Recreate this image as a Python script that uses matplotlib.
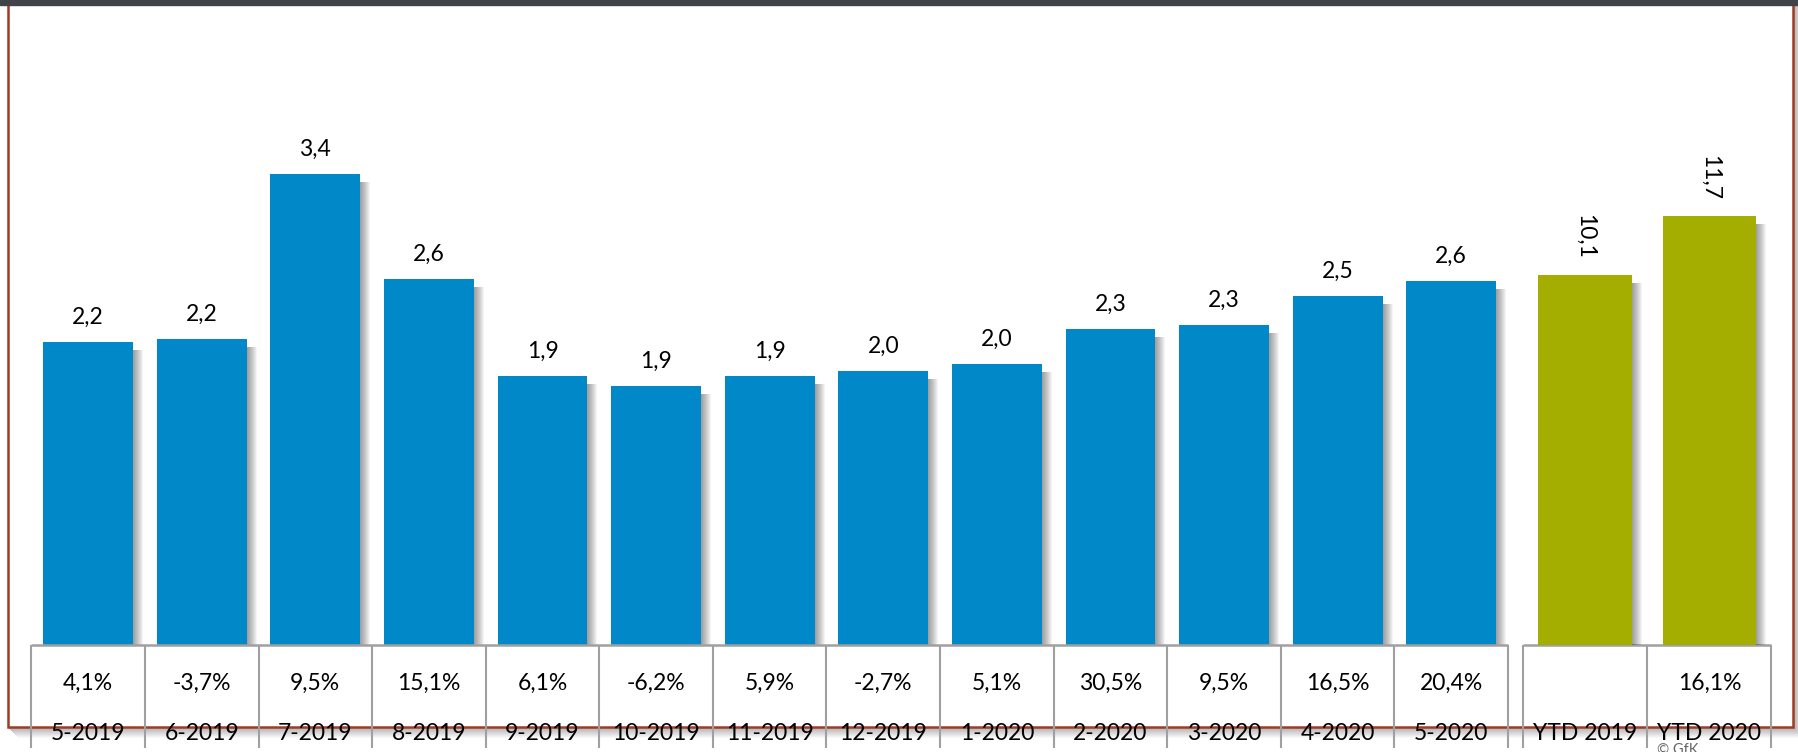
import numpy as np
import matplotlib
matplotlib.use('Agg')
import matplotlib.pyplot as plt
from matplotlib.patches import Rectangle
from matplotlib.lines import Line2D
from matplotlib.transforms import blended_transform_factory, offset_copy

plt.rcParams['font.family'] = ['Lato', 'DejaVu Sans']

# 数据
months = ['5-2019', '6-2019', '7-2019', '8-2019', '9-2019', '10-2019', '11-2019',
          '12-2019', '1-2020', '2-2020', '3-2020', '4-2020', '5-2020']
month_values = [2.19, 2.21, 3.40, 2.64, 1.94, 1.87, 1.94, 1.98, 2.03, 2.28, 2.31, 2.52, 2.63]
month_growth = [4.1, -3.7, 9.5, 15.1, 6.1, -6.2, 5.9, -2.7, 5.1, 30.5, 9.5, 16.5, 20.4]

ytd_labels = ['YTD 2019', 'YTD 2020']
ytd_values = [10.1, 11.7]
ytd_growth = [None, 16.1]

BLUE = '#0188C8'
GREEN = '#A3AE00'
GRID = '#A0A0A0'
FRAME = '#A03B25'

W, H = 1799, 752
fig = plt.figure(figsize=(W / 100, H / 100), dpi=100)


def fx(px):
    return px / W


def fy(py):
    # py 从图片顶部算起
    return 1 - py / H


# 坐标轴：x=-0.5 对应第一个表格单元左边
step = 113.6
left_px, right_px = 31.3, 1772
top_px, base_px = 5, 645
ax = fig.add_axes([fx(left_px), fy(base_px), (right_px - left_px) / W, (base_px - top_px) / H])
ax.set_xlim(-0.5, -0.5 + (right_px - left_px) / step)
ax.set_ylim(0, (base_px - top_px) / 138.5)
ax2 = ax.twinx()
ax2.set_ylim(0, (base_px - top_px) / 36.65)
for a in (ax, ax2):
    a.patch.set_visible(False)
    for s in a.spines.values():
        s.set_visible(False)
    a.set_xticks([])
    a.set_yticks([])

x = np.arange(len(months))
ytd_x = 12 + np.array([1.177, 2.272])
ytd_half = 0.546
w_month = 0.79
w_ytd = 0.82

# 柱子阴影
for k in range(1, 11):
    t1 = offset_copy(ax.transData, fig=fig, x=k, y=-8, units='dots')
    ax.bar(x, month_values, w_month, color='black', alpha=0.045, transform=t1, zorder=1, lw=0)
    t2 = offset_copy(ax2.transData, fig=fig, x=k, y=-8, units='dots')
    ax2.bar(ytd_x, ytd_values, w_ytd, color='black', alpha=0.045, transform=t2, zorder=1, lw=0)

ax.bar(x, month_values, w_month, color=BLUE, zorder=2, lw=0)
ax2.bar(ytd_x, ytd_values, w_ytd, color=GREEN, zorder=2, lw=0)

for xi, v in zip(x, month_values):
    ax.annotate(f'{v:.1f}'.replace('.', ','), (xi, v), xytext=(0, 13), textcoords='offset points',
                ha='center', va='baseline', fontsize=16.5, color='black')
for xi, v in zip(ytd_x, ytd_values):
    ax2.annotate(f'{v:.1f}'.replace('.', ','), (xi, v), xytext=(0, 28), textcoords='offset points',
                 ha='center', va='center', rotation=-90, fontsize=16.5, color='black')

# 表格
trans = blended_transform_factory(ax.transData, fig.transFigure)
edges = list(np.arange(len(months) + 1) - 0.5)
ytd_edges = [ytd_x[0] - ytd_half, ytd_x[0] + ytd_half, ytd_x[1] + ytd_half]
ax.vlines(edges + ytd_edges, fy(645), fy(748), transform=trans, color=GRID, lw=1.5, clip_on=False, zorder=3)
ax.hlines([fy(645)] * 2, [edges[0], ytd_edges[0]], [edges[-1], ytd_edges[-1]],
          transform=trans, color=GRID, lw=1.8, clip_on=False, zorder=3)

for xi, m, g in zip(x, months, month_growth):
    ax.text(xi, fy(690), f'{g:.1f}%'.replace('.', ','), transform=trans, ha='center',
            va='baseline', fontsize=16.5, clip_on=False, zorder=6)
    ax.text(xi, fy(740), m, transform=trans, ha='center', va='baseline', fontsize=16.5,
            clip_on=False, zorder=6)
for xi, m, g in zip(ytd_x, ytd_labels, ytd_growth):
    if g is not None:
        ax.text(xi, fy(690), f'{g:.1f}%'.replace('.', ','), transform=trans, ha='center',
                va='baseline', fontsize=16.5, clip_on=False, zorder=6)
    ax.text(xi, fy(740), m, transform=trans, ha='center', va='baseline', fontsize=16.5,
            clip_on=False, zorder=6)

# 外框与阴影
for k in range(1, 11):
    a = 0.3 * (1 - k / 11)
    fig.add_artist(Line2D([fx(8 + k), fx(1793 + k), fx(1793 + k)],
                          [fy(727 + k), fy(727 + k), fy(5)],
                          color='black', alpha=a, lw=0.75, zorder=-2))
fig.add_artist(Rectangle((fx(8), fy(727)), fx(1793 - 8), (727 - 3) / H, fill=False,
                         edgecolor=FRAME, lw=1.8, zorder=-1))

# 顶部深色条
fig.add_artist(Rectangle((0, fy(5)), 1, 5 / H, color='#404347', zorder=10))

fig.text(fx(1657), fy(754), '© GfK', fontsize=10.5, color='#666666', ha='left', va='baseline')

fig.savefig('out.png', dpi=100)
